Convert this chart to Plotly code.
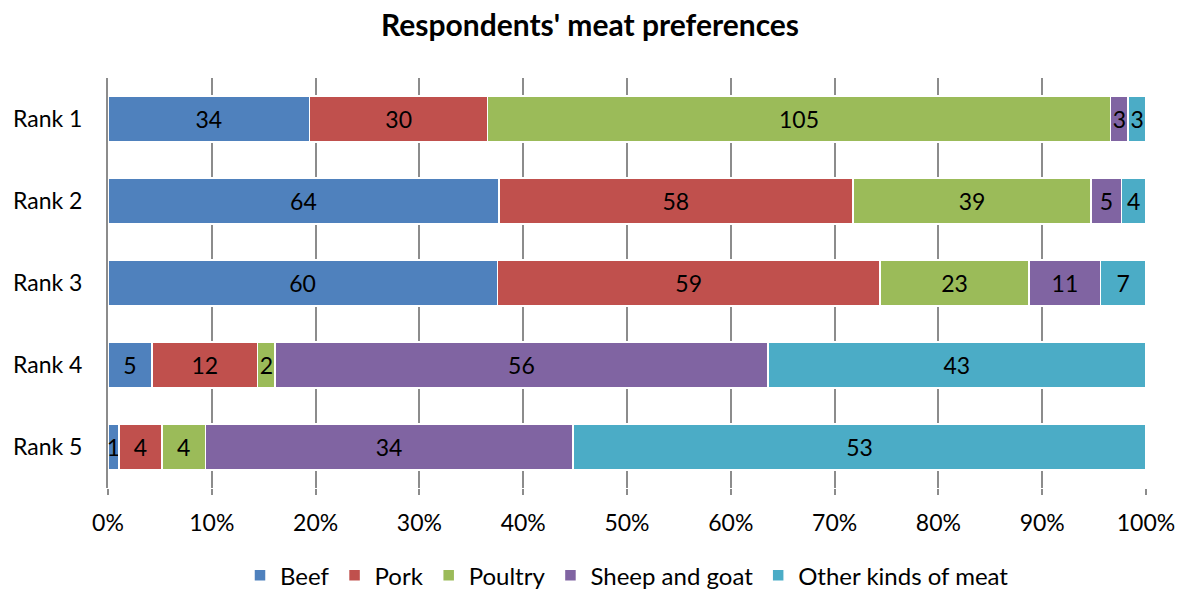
import plotly.graph_objects as go

categories = ["Rank 1", "Rank 2", "Rank 3", "Rank 4", "Rank 5"]
series_names = ["Beef", "Pork", "Poultry", "Sheep and goat", "Other kinds of meat"]
beef = [34, 64, 60, 5, 1]
pork = [30, 58, 59, 12, 4]
poultry = [105, 39, 23, 2, 4]
sheep_goat = [3, 5, 11, 56, 34]
other = [3, 4, 7, 43, 53]
colors = ["#4F81BD", "#C0504D", "#9BBB59", "#8064A2", "#4BACC6"]
tick_vals = [0, 10, 20, 30, 40, 50, 60, 70, 80, 90, 100]
tick_text = ["0%", "10%", "20%", "30%", "40%", "50%", "60%", "70%", "80%", "90%", "100%"]

FONT = "Lato"
FS = 23
fig = go.Figure()
for name, vals, col in zip(series_names, [beef, pork, poultry, sheep_goat, other], colors):
    fig.add_trace(go.Bar(
        y=categories, x=vals, name=name, orientation="h",
        marker=dict(color=col, line=dict(color="white", width=1.5)),
        text=[str(v) for v in vals], textposition="inside",
        insidetextanchor="middle", textangle=0,
        textfont=dict(color="black", size=FS, family=FONT),
        hoverinfo="x+y+name",
    ))

fig.update_layout(
    barmode="stack", barnorm="percent",
    bargap=0.44,
    width=1180, height=591,
    margin=dict(l=108, r=34, t=78, b=103, autoexpand=False),
    paper_bgcolor="white", plot_bgcolor="white",
    title=dict(text="<b>Respondents' meat preferences</b>", x=0.5, xanchor="center",
               y=0.957, yanchor="middle", font=dict(size=30, family=FONT, color="black")),
    font=dict(family=FONT, size=FS, color="black"),
    uniformtext=dict(minsize=FS, mode="show"),
    legend=dict(orientation="h", x=0.5, xanchor="center",
                yref="container", y=0.064, yanchor="top",
                font=dict(size=24, family=FONT), traceorder="normal",
                itemwidth=30, tracegroupgap=0),
    xaxis=dict(range=[0, 100], tickvals=tick_vals, ticktext=tick_text,
               showgrid=True, gridcolor="#8C8C8C", gridwidth=2,
               ticks="outside", ticklen=6, tickcolor="#8C8C8C", tickwidth=2,
               ticklabelstandoff=8, automargin=False,
               zeroline=False, showline=False, fixedrange=True,
               tickfont=dict(size=FS, family=FONT)),
    yaxis=dict(autorange="reversed", showgrid=False, showline=True,
               linecolor="#8C8C8C", linewidth=2, ticks="", ticklen=0,
               ticklabelstandoff=19, automargin=False,
               tickfont=dict(size=FS, family=FONT)),
)

fig.write_html("out.html")
